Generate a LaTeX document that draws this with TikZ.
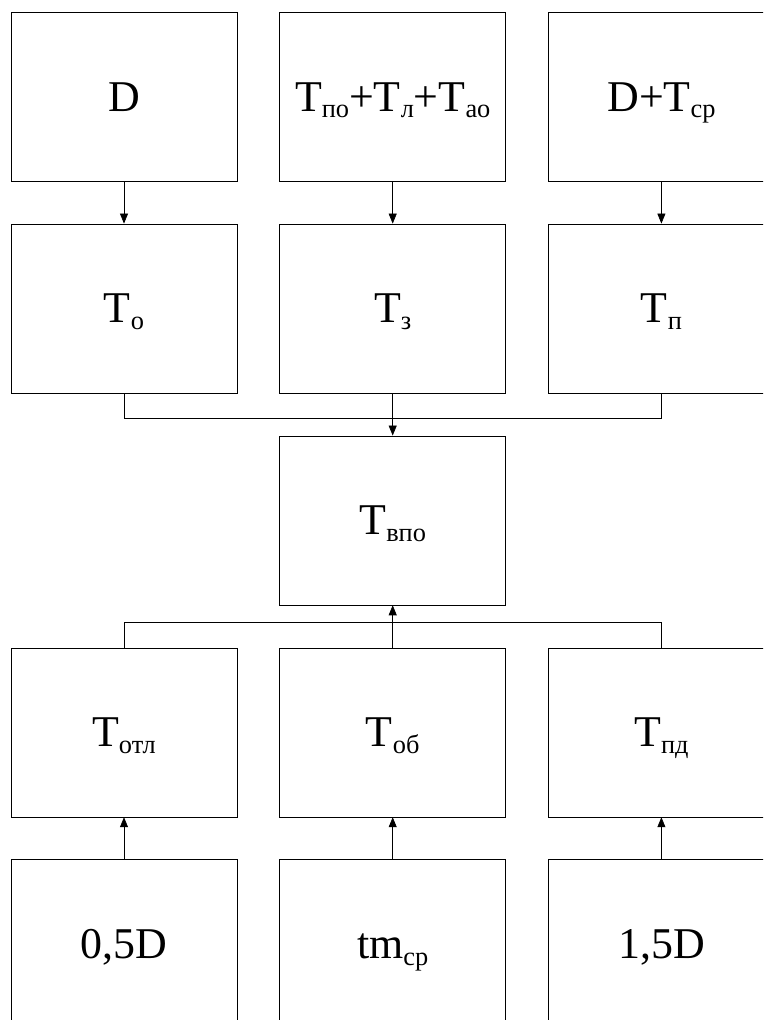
\documentclass[tikz,border=0pt]{standalone}
\usepackage{fontspec}
\setmainfont{Liberation Serif}
\usepackage{tikz}
\usetikzlibrary{arrows.meta,calc,positioning}
\newcommand{\lowidx}[1]{\raisebox{-3.8pt}[0pt][0pt]{\fontsize{15}{15}\selectfont #1}}
\tikzset{
    -{Triangle[length=0.2cm,width=0.16cm]}, line width=0.6pt,
    node distance = 0.845cm and 0.84cm,
    block/.style = {rectangle, draw, minimum width=4.52cm, minimum height=3.38cm,
                    inner sep=0pt, text height=16.5pt, text depth=0pt,
                    font=\fontsize{25}{30}\selectfont}
}
\begin{document}
\begin{tikzpicture}
        \useasboundingbox (0,0) rectangle (15.26,-20.4);
        \clip (0,0) rectangle (15.26,-20.4);

        \node[block] (d) at (2.48,-1.93) {D};
        \node[block, right=of d] (tsum) {T\lowidx{по}+T\lowidx{л}+T\lowidx{ао}};
        \node[block, right=of tsum] (dtcp) {D+T\lowidx{ср}};

        \node[block, below=of d] (to) {T\lowidx{о}};
        \node[block, below=of tsum] (tz) {T\lowidx{з}};
        \node[block, below=of dtcp] (tp) {T\lowidx{п}};

        \node[block, below=of tz] (tvpo) {T\lowidx{впо}};

        \node[block, below=of tvpo] (tob) {T\lowidx{об}};
        \node[block, left=of tob] (totl) {T\lowidx{отл}};
        \node[block, right=of tob] (tpd) {T\lowidx{пд}};

        \node[block, below=of totl] (half) {0,5D};
        \node[block, below=of tob] (tmcp) {tm\lowidx{ср}};
        \node[block, below=of tpd] (onehalf) {1,5D};

        \path (d) edge (to);
        \path (tsum) edge (tz);
        \path (dtcp) edge (tp);

        \coordinate (jtop) at ($(tz.south)!0.6!(tvpo.north)$);
        \draw[-] (to.south) |- (jtop) -| (tp.south);
        \path (tz) edge (tvpo);

        \coordinate (jbot) at ($(tob.north)!0.6!(tvpo.south)$);
        \draw[-] (totl.north) |- (jbot) -| (tpd.north);
        \path (tob) edge (tvpo);

        \path (half) edge (totl);
        \path (tmcp) edge (tob);
        \path (onehalf) edge (tpd);
\end{tikzpicture}
\end{document}
